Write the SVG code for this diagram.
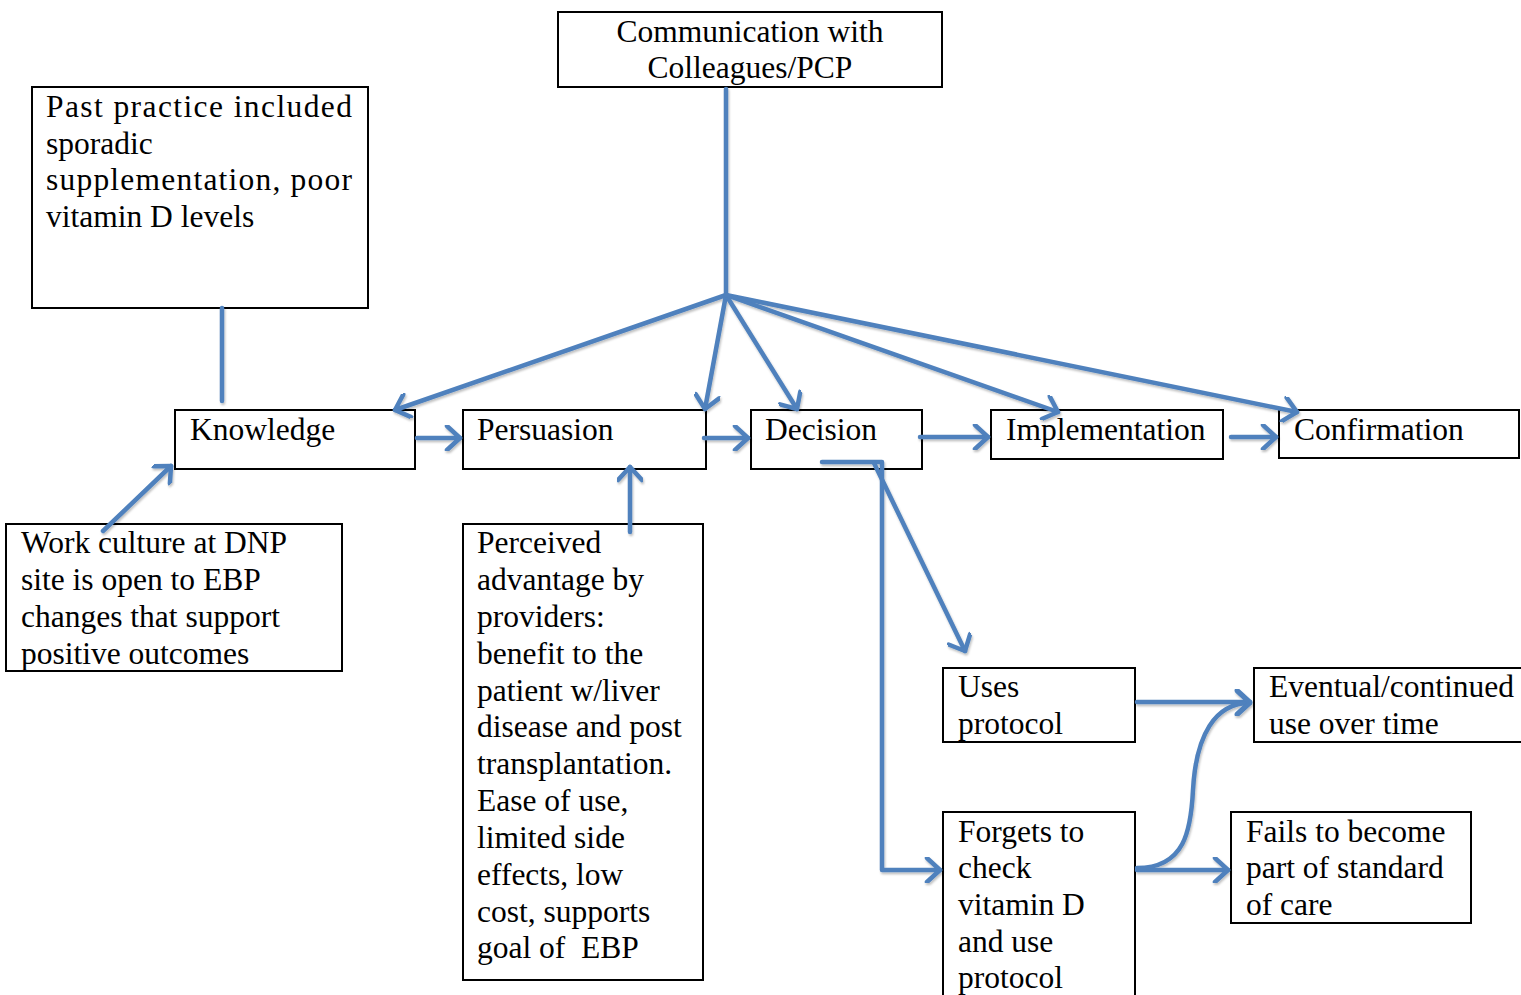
<svg xmlns="http://www.w3.org/2000/svg" width="1521" height="995" viewBox="0 0 1521 995">
<style>
.box{fill:#fff;stroke:#000;stroke-width:2}
.t{font-family:"Liberation Serif","Times New Roman",serif;font-size:31.5px;fill:#000}
.c{fill:none;stroke:#4F81BD;stroke-width:4.5;stroke-linecap:round;stroke-linejoin:round}
</style>
<defs>
<marker id="ah" viewBox="0 0 26 26" refX="21" refY="13" markerWidth="26" markerHeight="26" markerUnits="userSpaceOnUse" orient="auto">
<path d="M8,1 L21,13 L8,25" fill="none" stroke="#4F81BD" stroke-width="4.5" stroke-linecap="round" stroke-linejoin="round"/>
</marker>
<filter id="sh" x="-10%" y="-10%" width="120%" height="120%">
<feDropShadow dx="1" dy="2" stdDeviation="1.2" flood-color="#000" flood-opacity="0.25"/>
</filter>
</defs>
<rect width="1521" height="995" fill="#fff"/>
<g id="n-communication"><rect class="box" x="558" y="12" width="384" height="75"/>
<text class="t" x="750" y="42" text-anchor="middle">Communication with</text>
<text class="t" x="750" y="78" text-anchor="middle">Colleagues/PCP</text></g>
<g id="n-past"><rect class="box" x="32" y="87" width="336" height="221"/>
<text class="t" x="46" y="117" textLength="306" lengthAdjust="spacing">Past practice included</text>
<text class="t" x="46" y="154">sporadic</text>
<text class="t" x="46" y="190" textLength="306" lengthAdjust="spacing">supplementation, poor</text>
<text class="t" x="46" y="227">vitamin D levels</text></g>
<g id="n-knowledge"><rect class="box" x="175" y="410" width="240" height="59"/>
<text class="t" x="190" y="440">Knowledge</text></g>
<g id="n-persuasion"><rect class="box" x="463" y="410" width="243" height="59"/>
<text class="t" x="477" y="440">Persuasion</text></g>
<g id="n-decision"><rect class="box" x="751" y="410" width="171" height="59"/>
<text class="t" x="765" y="440">Decision</text></g>
<g id="n-implementation"><rect class="box" x="991" y="410" width="232" height="49"/>
<text class="t" x="1006" y="440">Implementation</text></g>
<g id="n-confirmation"><rect class="box" x="1279" y="410" width="240" height="48"/>
<text class="t" x="1294" y="440">Confirmation</text></g>
<g id="n-work"><rect class="box" x="6" y="524" width="336" height="147"/>
<text class="t" x="21" y="553">Work culture at DNP</text>
<text class="t" x="21" y="590">site is open to EBP</text>
<text class="t" x="21" y="627">changes that support</text>
<text class="t" x="21" y="664">positive outcomes</text></g>
<g id="n-perceived"><rect class="box" x="463" y="524" width="240" height="456"/>
<text class="t" x="477" y="553">Perceived</text>
<text class="t" x="477" y="590">advantage by</text>
<text class="t" x="477" y="627">providers:</text>
<text class="t" x="477" y="664">benefit to the</text>
<text class="t" x="477" y="701">patient w/liver</text>
<text class="t" x="477" y="737">disease and post</text>
<text class="t" x="477" y="774">transplantation.</text>
<text class="t" x="477" y="811">Ease of use,</text>
<text class="t" x="477" y="848">limited side</text>
<text class="t" x="477" y="885">effects, low</text>
<text class="t" x="477" y="922">cost, supports</text>
<text class="t" x="477" y="958" style="white-space:pre">goal of  EBP</text></g>
<g id="n-uses"><rect class="box" x="943" y="668" width="192" height="74"/>
<text class="t" x="958" y="697">Uses</text>
<text class="t" x="958" y="734">protocol</text></g>
<g id="n-eventual"><rect class="box" x="1254" y="668" width="280" height="74"/>
<text class="t" x="1269" y="697">Eventual/continued</text>
<text class="t" x="1269" y="734">use over time</text></g>
<g id="n-forgets"><rect class="box" x="943" y="812" width="192" height="200"/>
<text class="t" x="958" y="842">Forgets to</text>
<text class="t" x="958" y="878">check</text>
<text class="t" x="958" y="915">vitamin D</text>
<text class="t" x="958" y="952">and use</text>
<text class="t" x="958" y="988">protocol</text></g>
<g id="n-fails"><rect class="box" x="1231" y="812" width="240" height="111"/>
<text class="t" x="1246" y="842">Fails to become</text>
<text class="t" x="1246" y="878">part of standard</text>
<text class="t" x="1246" y="915">of care</text></g>
<g id="connectors" filter="url(#sh)">
<path class="c" d="M726,89 L726,295"/>
<path class="c" d="M726,295 L395,410" marker-end="url(#ah)"/>
<path class="c" d="M726,295 L705,409" marker-end="url(#ah)"/>
<path class="c" d="M726,295 L797,409" marker-end="url(#ah)"/>
<path class="c" d="M726,295 L1058,412" marker-end="url(#ah)"/>
<path class="c" d="M726,295 L1297,412" marker-end="url(#ah)"/>
<path class="c" d="M222,308 L222,401"/>
<path class="c" d="M417,438 L460,438" marker-end="url(#ah)"/>
<path class="c" d="M704,438 L748,438" marker-end="url(#ah)"/>
<path class="c" d="M920,437 L988,437" marker-end="url(#ah)"/>
<path class="c" d="M1231,437 L1276,437" marker-end="url(#ah)"/>
<path class="c" d="M103,531 L171,466" marker-end="url(#ah)"/>
<path class="c" d="M630,532 L630,467" marker-end="url(#ah)"/>
<path class="c" d="M822,462 L882,462 L882,870 L940,870" marker-end="url(#ah)"/>
<path class="c" d="M874,463 L965,651" marker-end="url(#ah)"/>
<path class="c" d="M1137,702 L1250,702" marker-end="url(#ah)"/>
<path class="c" d="M1137,870 L1228,870" marker-end="url(#ah)"/>
<path class="c" d="M1137,868 C1185,868 1191,830 1193,790 C1196,735 1215,703 1250,703" marker-end="url(#ah)"/>
</g>
</svg>
